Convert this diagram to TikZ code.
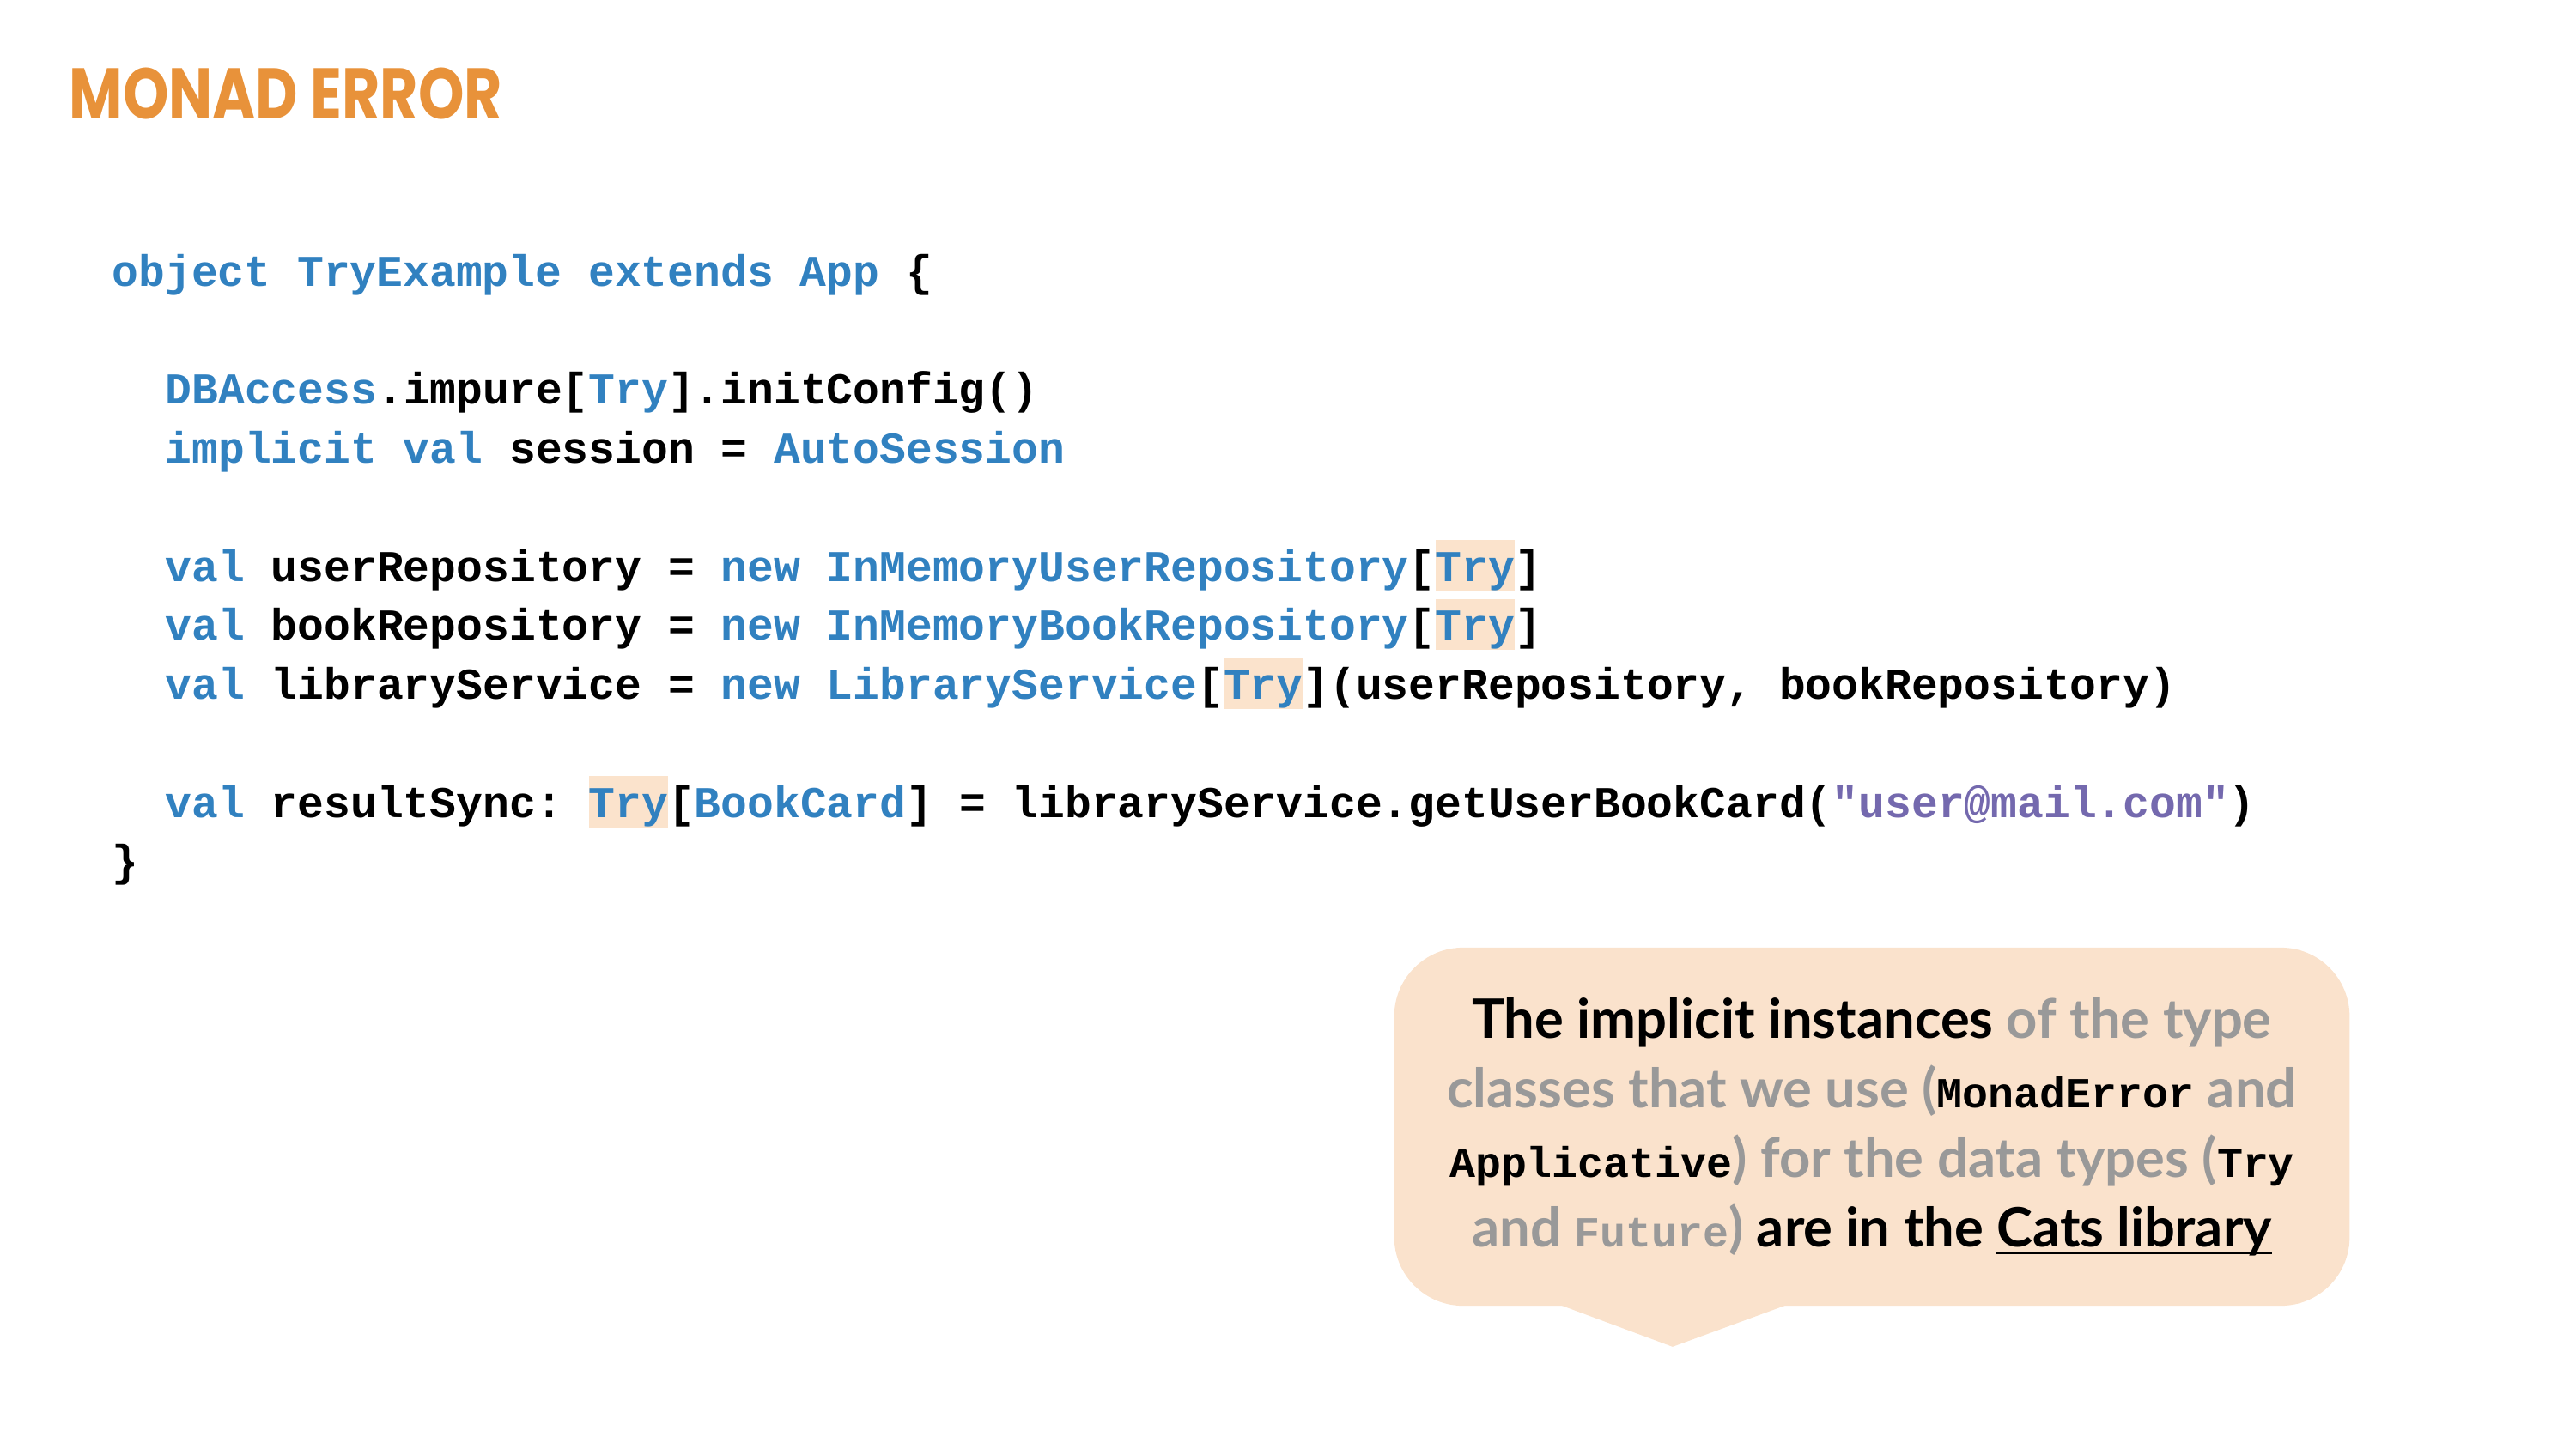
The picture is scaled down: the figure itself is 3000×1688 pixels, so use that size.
\documentclass[tikz,border=0pt]{standalone}
\usepackage{fontspec}
\usepackage{tikz}
\setmainfont{Lato}
\newfontfamily\codefont{Liberation Mono}
\newfontfamily\titlefont{Poppins}

\definecolor{titleorange}{HTML}{E8923A}
\definecolor{kwblue}{HTML}{3181C0}
\definecolor{strpurple}{HTML}{7469AE}
\definecolor{hlpeach}{HTML}{FBE3CC}
\definecolor{notebg}{HTML}{FAE2CC}
\definecolor{notegrey}{HTML}{999999}

\newcommand{\kw}[1]{\textcolor{kwblue}{#1}}
\newcommand{\hlt}[1]{{\setlength{\fboxsep}{0pt}\colorbox{hlpeach}{\rule[-0.23em]{0pt}{1.16em}\kw{#1}}}}
\newcommand{\gry}[1]{\textcolor{notegrey}{#1}}
\newcommand{\nm}[1]{{\codefont\bfseries\fontsize{14.2}{23.05}\selectfont #1}}
\newcommand{\undl}[1]{\setbox0\hbox{#1}\rlap{\rule[-0.14em]{\wd0}{0.055em}}\box0}

\tikzset{
  codeline/.style={anchor=base west, inner sep=0pt,
    font=\codefont\bfseries\fontsize{14.6}{18}\selectfont\frenchspacing},
  notebox/.style={fill=notebg, rounded corners=0.8cm, inner sep=0pt,
    minimum width=11.12cm, minimum height=4.17cm, align=center,
    font=\bfseries\fontsize{18}{23.05}\selectfont}
}

\begin{document}
\begin{tikzpicture}[x=0.01cm,y=-0.01cm]
  \useasboundingbox (0,0) rectangle (3000,1688);
  \node[anchor=south west, inner sep=0pt] (title) at (80,140)
    {\resizebox{5.04cm}{0.595cm}{\titlefont\bfseries\textcolor{titleorange}{MONAD ERROR}}};

  %% code lines, baselines on a 68.75px grid
  \node[codeline] (objline) at (130,333) {\kw{object TryExample extends App} \{};
  \node[codeline] (initline) at (192,470.5) {\kw{DBAccess}.impure[\kw{Try}].initConfig()};
  \node[codeline] (sessline) at (192,539) {\kw{implicit val} session = \kw{AutoSession}};
  \node[codeline] (userline) at (192,677) {\kw{val} userRepository = \kw{new InMemoryUserRepository}[\hlt{Try}]};
  \node[codeline] (bookline) at (192,745.5) {\kw{val} bookRepository = \kw{new InMemoryBookRepository}[\hlt{Try}]};
  \node[codeline] (servline) at (192,814) {\kw{val} libraryService = \kw{new LibraryService}[\hlt{Try}](userRepository, bookRepository)};
  \node[codeline] (syncline) at (192,952) {\kw{val} resultSync: \hlt{Try}[\kw{BookCard}] = libraryService.getUserBookCard(\textcolor{strpurple}{"user@mail.com"})};
  \node[codeline] (endline) at (130,1020.5) {\}};

  %% callout
  \node[notebox] (note) at (2180,1312.5)
    {The implicit instances \gry{of the type}\\
     \gry{classes that we use (}\nm{MonadError} \gry{and}\\
     \nm{Applicative}\gry{) for the data types (}\nm{Try}\\
     \gry{and \nm{Future})} are in the \undl{Cats library}};
  \coordinate (tipl) at ([xshift=-3.72cm,yshift=0.05cm]note.south);
  \coordinate (tipr) at ([xshift=-0.90cm,yshift=0.05cm]note.south);
  \coordinate (tip) at ([xshift=-2.32cm,yshift=-0.47cm]note.south);
  \fill[notebg] (tipl) -- (tip) -- (tipr) -- cycle;
\end{tikzpicture}
\end{document}
